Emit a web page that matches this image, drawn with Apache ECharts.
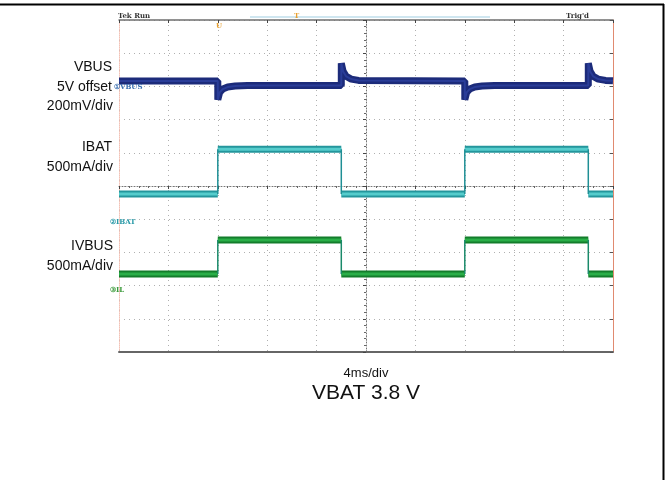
<!DOCTYPE html>
<html>
<head>
<meta charset="utf-8">
<script src="https://cdn.jsdelivr.net/npm/echarts@6/dist/echarts.min.js"></script>
<style>html,body{margin:0;padding:0;background:#fff;}#c{width:669px;height:480px;}</style>
</head>
<body>
<div id="c"></div>
<script>
// Time axis: ms relative to screen centre (10 div x 4 ms/div)
const timeTicks = [-20, -16, -12, -8, -4, 0, 4, 8, 12, 16, 20];
// Segment boundaries (ms) for the pulsed load
const segBounds = [-20, -12, -2, 8, 18, 20];
// IBAT level per segment, in divisions from centre
const ibatDiv = [-0.24, 1.11, -0.24, 1.11, -0.24];
// IVBUS level per segment, in divisions from centre
const ivbusDiv = [-2.65, -1.63, -2.65, -1.63, -2.65];
// VBUS trace (ms, divisions)
const vbusTime = [-20, -12, -12, -11.85, -11.6, -11.2, -10.6, -9.6, -2, -2, -1.85, -1.6, -1.2, -0.6, 8, 8, 8.15, 8.4, 8.8, 9.4, 10.4, 18, 18, 18.15, 18.4, 18.8, 19.4, 20];
const vbusDiv  = [3.16, 3.16, 2.6, 2.82, 2.92, 2.98, 3.01, 3.03, 3.03, 3.7, 3.45, 3.3, 3.22, 3.18, 3.16, 2.6, 2.82, 2.92, 2.98, 3.01, 3.03, 3.03, 3.7, 3.45, 3.3, 3.22, 3.18, 3.17];

function horiz(levels) {
  const d = [];
  for (let i = 0; i < levels.length; i++) {
    d.push([segBounds[i], levels[i]], [segBounds[i + 1], levels[i]], null);
  }
  return d;
}
function vert(levels) {
  const d = [];
  for (let i = 1; i < levels.length; i++) {
    d.push([segBounds[i], levels[i - 1]], [segBounds[i], levels[i]], null);
  }
  return d;
}
const vbusData = vbusTime.map((t, i) => [t, vbusDiv[i]]);

const chart = echarts.init(document.getElementById('c'), null, {renderer: 'canvas'});
const font = '"Liberation Sans", Arial, sans-serif';
function label(text, x, y, size, align) {
  return {type: 'text', z: 100, style: {text: text, x: x, y: y, fill: '#111', font: size + 'px ' + font,
    textAlign: align, align: align, textVerticalAlign: 'middle', verticalAlign: 'middle'}};
}
function small(text, x, y, color) {
  return {type: 'text', z: 100, style: {text: text, x: x, y: y, fill: color, font: 'bold 7px "DejaVu Serif", serif',
    textAlign: 'left', align: 'left', textVerticalAlign: 'middle', verticalAlign: 'middle'}};
}
const line = () => ({type: 'line', showSymbol: false, connectNulls: false, animation: false, silent: true});
const gridDots = {type: [1, 4], color: '#b0b0b0', width: 1};

chart.setOption({
  animation: false,
  backgroundColor: '#fff',
  grid: {left: 119, right: 56, top: 20, bottom: 128},
  xAxis: [
    {type: 'value', min: -20, max: 20, interval: 4, position: 'bottom',
     axisLine: {onZero: false, lineStyle: {color: '#666', width: 2}}, axisTick: {show: false}, axisLabel: {show: false},
     splitLine: {show: true, lineStyle: gridDots}},
    {type: 'value', min: -20, max: 20, interval: 4, position: 'top',
     axisLine: {onZero: false, lineStyle: {color: '#6f6f6f', width: 1.5}},
     axisTick: {show: true, inside: true, length: 3, lineStyle: {color: '#444'}}, axisLabel: {show: false}, splitLine: {show: false}},
    {type: 'value', min: -20, max: 20, interval: 4, position: 'bottom',
     axisLine: {onZero: true, lineStyle: {color: '#777', type: [1, 2], width: 1}},
     axisTick: {show: true, inside: false, length: 3, lineStyle: {color: '#444'}},
     minorTick: {show: true, splitNumber: 5, length: 2, lineStyle: {color: '#666'}},
     axisLabel: {show: false}, splitLine: {show: false}}
  ],
  yAxis: [
    {type: 'value', min: -5, max: 5, interval: 1, position: 'left',
     axisLine: {onZero: false, lineStyle: {color: '#f3c2b6', type: 'dotted', width: 1}}, axisTick: {show: false}, axisLabel: {show: false},
     splitLine: {show: true, lineStyle: gridDots}},
    {type: 'value', min: -5, max: 5, interval: 1, position: 'right',
     axisLine: {onZero: false, lineStyle: {color: '#e08a70', width: 1}},
     axisTick: {show: true, inside: true, length: 3, lineStyle: {color: '#555'}}, axisLabel: {show: false}, splitLine: {show: false}},
    {type: 'value', min: -5, max: 5, interval: 1, position: 'left',
     axisLine: {onZero: true, lineStyle: {color: '#777', type: [1, 2], width: 1}},
     axisTick: {show: true, inside: false, length: 3, lineStyle: {color: '#444'}},
     minorTick: {show: true, splitNumber: 5, length: 2, lineStyle: {color: '#666'}},
     axisLabel: {show: false}, splitLine: {show: false}}
  ],
  series: [
    Object.assign(line(), {name: 'VBUS', data: vbusData, lineStyle: {color: '#1c2b7a', width: 7}}),
    Object.assign(line(), {name: 'VBUS core', data: vbusData, lineStyle: {color: '#2a3d98', width: 2}}),
    Object.assign(line(), {name: 'IBAT', data: horiz(ibatDiv), lineStyle: {color: '#24969c', width: 7}}),
    Object.assign(line(), {name: 'IBAT core', data: horiz(ibatDiv), lineStyle: {color: '#55cccc', width: 3}}),
    Object.assign(line(), {name: 'IBAT edge', data: vert(ibatDiv), lineStyle: {color: '#1f8f95', width: 1.5}}),
    Object.assign(line(), {name: 'IVBUS', data: horiz(ivbusDiv), lineStyle: {color: '#137d2b', width: 7}}),
    Object.assign(line(), {name: 'IVBUS core', data: horiz(ivbusDiv), lineStyle: {color: '#2aae48', width: 3}}),
    Object.assign(line(), {name: 'IVBUS edge', data: vert(ivbusDiv), lineStyle: {color: '#1a8a6a', width: 1.5}})
  ],
  graphic: [
    {type: 'line', z: 100, shape: {x1: 0, y1: 4.5, x2: 664, y2: 4.5}, style: {stroke: '#000', lineWidth: 2}},
    {type: 'line', z: 100, shape: {x1: 663.5, y1: 4, x2: 663.5, y2: 480}, style: {stroke: '#000', lineWidth: 2}},
    {type: 'rect', z: 90, shape: {x: 250, y: 16, width: 240, height: 2}, style: {fill: '#cfe6f0'}},
    label('VBUS', 112, 67, 14, 'right'),
    label('5V offset', 112, 87, 14, 'right'),
    label('200mV/div', 113, 106, 14, 'right'),
    label('IBAT', 112, 147, 14, 'right'),
    label('500mA/div', 113, 167, 14, 'right'),
    label('IVBUS', 113, 246, 14, 'right'),
    label('500mA/div', 113, 266, 14, 'right'),
    label('4ms/div', 366, 373, 13, 'center'),
    label('VBAT 3.8 V', 366, 393, 21, 'center'),
    small('Tek Run', 118, 16, '#333'),
    small('Trig\'d', 566, 16, '#333'),
    small('U', 216, 26, '#e8a030'),
    small('T', 294, 16, '#e8a030'),
    small('①VBUS', 114, 87, '#3a6fb0'),
    small('②IBAT', 110, 222, '#2a9aa8'),
    small('③IL', 110, 290, '#3a9a3a')
  ]
});
</script>
</body>
</html>
